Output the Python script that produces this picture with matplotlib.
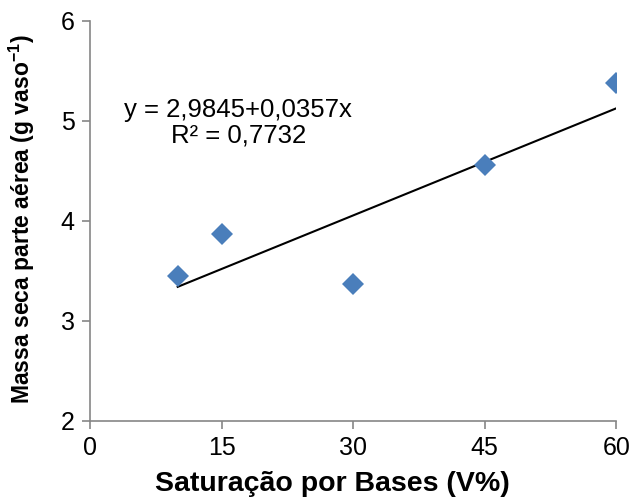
import matplotlib.pyplot as plt
import numpy as np

plt.rcParams['font.family'] = ['Liberation Sans', 'DejaVu Sans']
plt.rcParams['mathtext.fontset'] = 'custom'
plt.rcParams['mathtext.rm'] = 'Liberation Sans'
plt.rcParams['mathtext.bf'] = 'Liberation Sans:bold'

# data
saturacao = [10, 15, 30, 45, 60]
massa_seca = [3.45, 3.87, 3.37, 4.56, 5.38]
intercept = 2.9845
slope = 0.0357
x_ticks = [0, 15, 30, 45, 60]
y_ticks = [2, 3, 4, 5, 6]

fig = plt.figure(figsize=(6.32, 5.01), dpi=100)
ax = fig.add_axes([0.1424, 0.1597, 0.8326, 0.7984])

ax.plot(saturacao, massa_seca, 'D', color='#4a7ebb', markersize=11.5,
        markeredgewidth=0, zorder=3)

xfit = np.array([min(saturacao), max(saturacao)])
ax.plot(xfit, intercept + slope * xfit, color='black', lw=1.5, zorder=2)

ax.text(16.9, 4.985, 'y = 2,9845+0,0357x\nR² = 0,7732', fontsize=18.5,
        ha='center', va='center', multialignment='center', linespacing=1.1)

ax.set_xlim(0, 60)
ax.set_ylim(2, 6)
ax.set_xticks(x_ticks)
ax.set_yticks(y_ticks)
ax.tick_params(labelsize=18, direction='out', length=6, color='#868686',
               width=1.2, pad=5)
for side in ['top', 'right']:
    ax.spines[side].set_visible(False)
for side in ['left', 'bottom']:
    ax.spines[side].set_color('#868686')
    ax.spines[side].set_linewidth(1.2)

ax.set_xlabel('Saturação por Bases (V%)', fontsize=20.5, fontweight='bold')
ax.xaxis.set_label_coords(0.46, -0.125)
ax.set_ylabel(r'Massa seca parte aérea (g vaso$\mathbf{^{-1}}$)', fontsize=16.5,
              fontweight='bold')
ax.yaxis.set_label_coords(-0.1, 0.505)

fig.savefig('out.png', dpi=100)
